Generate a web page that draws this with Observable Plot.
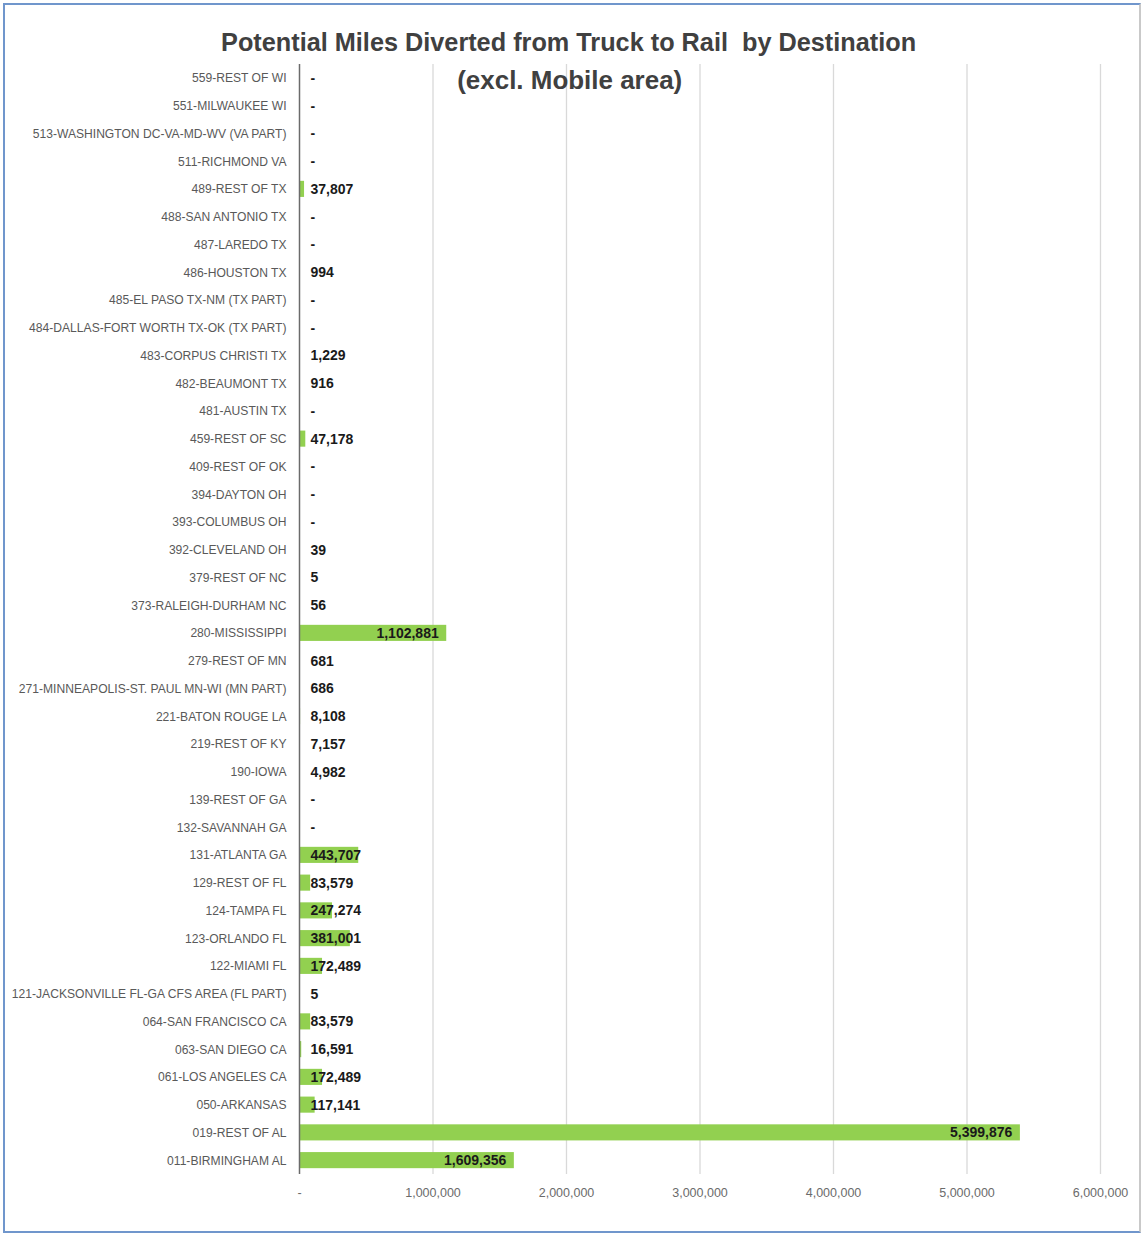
<!DOCTYPE html>
<html>
<head>
<meta charset="utf-8">
<script src="https://cdn.jsdelivr.net/npm/d3@7"></script>
<script src="https://cdn.jsdelivr.net/npm/@observablehq/plot@0.6"></script>
<style>
  html, body { margin: 0; padding: 0; background: #fff; }
  #wrap { position: relative; width: 1143px; height: 1234px; overflow: hidden; }
  #frame { position: absolute; left: 3px; top: 3px; width: 1134px; height: 1226px;
           border: 2px solid #7096cc; border-right-color: #c9c9c9; pointer-events: none; }
  .title { position: absolute; left: 0; width: 1143px; text-align: center;
           font-family: "Liberation Sans", Arial, sans-serif; font-weight: bold;
           font-size: 26px; color: #404040; white-space: nowrap; line-height: 1; }
  .title span { display: inline-block; transform-origin: center; }
</style>
</head>
<body>
<div id="wrap">
  <div id="chart"></div>
  <div class="title" id="t1" style="top:29px;"><span data-w="695" style="margin-left:-6px">Potential Miles Diverted from Truck to Rail&nbsp; by Destination</span></div>
  <div class="title" id="t2" style="top:67px;"><span data-w="225" style="margin-left:-3px">(excl. Mobile area)</span></div>
  <div id="frame"></div>
</div>
<script>
const categories = [
  "559-REST OF WI",
  "551-MILWAUKEE WI",
  "513-WASHINGTON DC-VA-MD-WV (VA PART)",
  "511-RICHMOND VA",
  "489-REST OF TX",
  "488-SAN ANTONIO TX",
  "487-LAREDO TX",
  "486-HOUSTON TX",
  "485-EL PASO TX-NM (TX PART)",
  "484-DALLAS-FORT WORTH TX-OK (TX PART)",
  "483-CORPUS CHRISTI TX",
  "482-BEAUMONT TX",
  "481-AUSTIN TX",
  "459-REST OF SC",
  "409-REST OF OK",
  "394-DAYTON OH",
  "393-COLUMBUS OH",
  "392-CLEVELAND OH",
  "379-REST OF NC",
  "373-RALEIGH-DURHAM NC",
  "280-MISSISSIPPI",
  "279-REST OF MN",
  "271-MINNEAPOLIS-ST. PAUL MN-WI (MN PART)",
  "221-BATON ROUGE LA",
  "219-REST OF KY",
  "190-IOWA",
  "139-REST OF GA",
  "132-SAVANNAH GA",
  "131-ATLANTA GA",
  "129-REST OF FL",
  "124-TAMPA FL",
  "123-ORLANDO FL",
  "122-MIAMI FL",
  "121-JACKSONVILLE FL-GA CFS AREA (FL PART)",
  "064-SAN FRANCISCO CA",
  "063-SAN DIEGO CA",
  "061-LOS ANGELES CA",
  "050-ARKANSAS",
  "019-REST OF AL",
  "011-BIRMINGHAM AL"
];
const miles = [
  0, 0, 0, 0, 37807, 0, 0, 994, 0, 0,
  1229, 916, 0, 47178, 0, 0, 0, 39, 5, 56,
  1102881, 681, 686, 8108, 7157, 4982, 0, 0, 443707, 83579,
  247274, 381001, 172489, 5, 83579, 16591, 172489, 117141, 5399876, 1609356
];
const xTicks = [0, 1000000, 2000000, 3000000, 4000000, 5000000, 6000000];

const data = categories.map((c, i) => ({cat: c, value: miles[i]}));
const fmt = v => v === 0 ? "-" : d3.format(",")(v);
const big = d => d.value > 600000;

const chart = Plot.plot({
  width: 1143,
  height: 1234,
  marginLeft: 299,
  marginRight: 43,
  marginTop: 64,
  marginBottom: 60,
  style: {fontFamily: "'Liberation Sans', Arial, sans-serif", background: "transparent"},
  x: {domain: [0, 6000000]},
  y: {domain: categories, paddingInner: 0.42, paddingOuter: 0.21, round: false},
  marks: [
    Plot.gridX(xTicks.slice(1), {stroke: "#d9d9d9", strokeOpacity: 1, strokeWidth: 1.3}),
    Plot.barX(data, {x: "value", y: "cat", fill: "#92d050"}),
    Plot.ruleX([0], {stroke: "#6b6b6b", strokeWidth: 1.5}),
    Plot.axisY({tickSize: 0, tickPadding: 13, fontSize: 12.1, fill: "#595959", label: null}),
    Plot.axisX(xTicks, {tickSize: 0, tickPadding: 14, fontSize: 12.5, fill: "#6b6b6b",
      tickFormat: fmt, label: null}),
    Plot.text(data.filter(d => !big(d)), {x: 0, y: "cat", text: d => fmt(d.value),
      dx: 11, textAnchor: "start", fontSize: 14, fontWeight: "bold", fill: "#1a1a1a"}),
    Plot.text(data.filter(big), {x: "value", y: "cat", text: d => fmt(d.value),
      dx: -8, textAnchor: "end", fontSize: 14, fontWeight: "bold", fill: "#1a1a1a"})
  ]
});
document.getElementById("chart").appendChild(chart);

document.querySelectorAll(".title span").forEach(s => {
  const w = s.getBoundingClientRect().width;
  const target = +s.dataset.w;
  s.style.transform = `scaleX(${target / w})`;
});
</script>
</body>
</html>
